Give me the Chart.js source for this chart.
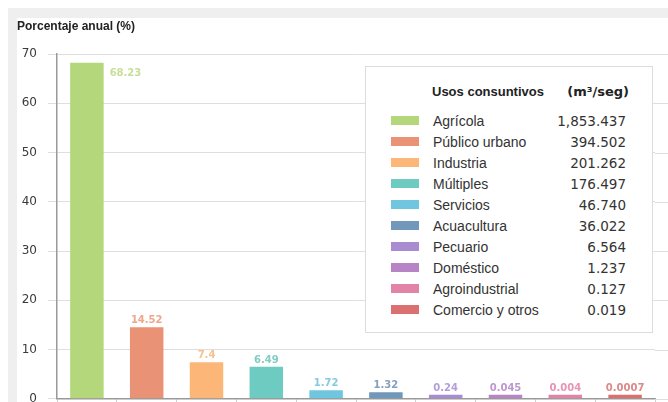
<!DOCTYPE html>
<html>
<head>
<meta charset="utf-8">
<script src="https://cdn.jsdelivr.net/npm/chart.js@4.4.1/dist/chart.umd.min.js"></script>
<style>
  html, body { margin: 0; padding: 0; }
  body { width: 668px; height: 402px; overflow: hidden; background: #fff; position: relative; }
  #frame { position: absolute; left: 8px; top: 8px; right: 0; bottom: 0; background: #efefef; }
  #panel { position: absolute; left: 17px; top: 18px; width: 651px; height: 399px; background: #fff; }
  #legend {
    position: absolute; left: 365px; top: 66px; width: 288px; height: 267px;
    box-sizing: border-box; border: 1px solid #dcdcdc; background: #fff;
    padding-top: 14px; font-family: "Liberation Sans", Arial, sans-serif; color: #333;
  }
  .row { display: flex; align-items: center; height: 21px; font-size: 14px; }
  .row.head { font-size: 13px; font-weight: bold; color: #222; margin-bottom: 8px; }
  .row.head .name { margin-left: 66px; }
  .row.head .val { margin-right: 23px; font-family: "DejaVu Sans", sans-serif; font-size: 13px; }
  .sw { width: 28px; height: 9px; margin-left: 25px; margin-right: 14px; }
  .name { flex: 1; }
  .val { margin-right: 26px; font-family: "DejaVu Sans", sans-serif; font-size: 13.5px; }
</style>
</head>
<body>
<div id="frame"></div>
<div id="panel"><canvas id="chart" width="651" height="399"></canvas></div>
<div id="legend"><div class="row head"><span class="name">Usos consuntivos</span><span class="val">(m³/seg)</span></div></div>
<script>
// 数据：各用途占比 (%) 与流量 (m³/seg)
const categories = ["Agrícola", "Público urbano", "Industria", "Múltiples", "Servicios",
  "Acuacultura", "Pecuario", "Doméstico", "Agroindustrial", "Comercio y otros"];
const percentages = [68.23, 14.52, 7.4, 6.49, 1.72, 1.32, 0.24, 0.045, 0.004, 0.0007];
const flows = [1853.437, 394.502, 201.262, 176.497, 46.740, 36.022, 6.564, 1.237, 0.127, 0.019];
const yTicks = [0, 10, 20, 30, 40, 50, 60, 70];

const barColors = ["#b5d77b", "#ea9275", "#fcb778", "#6dcbc1", "#70c6de",
  "#7197bb", "#a98bd1", "#b785c6", "#e283a8", "#da7070"];
const labelColors = ["#c6df98", "#eca78c", "#f8c08c", "#7fcdc5", "#84cae0",
  "#869fbe", "#b59dd8", "#bd98cf", "#e795b4", "#dd8a8a"];

// 图例：名称 + 流量
const legend = document.getElementById("legend");
categories.forEach((name, i) => {
  const row = document.createElement("div");
  row.className = "row";
  row.innerHTML = `<span class="sw" style="background:${barColors[i]}"></span>` +
    `<span class="name">${name}</span>` +
    `<span class="val">${flows[i].toLocaleString("en-US", { minimumFractionDigits: 3 })}</span>`;
  legend.appendChild(row);
});

// 网格线延伸到画布右缘
const gridExtend = {
  id: "gridExtend",
  beforeDatasetsDraw(chart) {
    const { ctx, chartArea } = chart;
    const y = chart.scales.y;
    ctx.save();
    ctx.strokeStyle = "#dedede";
    ctx.lineWidth = 1;
    y.ticks.forEach((t) => {
      const py = Math.round(y.getPixelForValue(t.value)) + 0.5;
      ctx.beginPath();
      ctx.moveTo(chartArea.right, py);
      ctx.lineTo(chart.width, py);
      ctx.stroke();
    });
    ctx.restore();
  },
};

// 柱顶数值标签
const barLabels = {
  id: "barLabels",
  afterDatasetsDraw(chart) {
    const ctx = chart.ctx;
    const meta = chart.getDatasetMeta(0);
    ctx.save();
    ctx.font = 'bold 10px "DejaVu Sans"';
    ctx.textBaseline = "alphabetic";
    meta.data.forEach((bar, i) => {
      ctx.fillStyle = labelColors[i];
      const txt = String(percentages[i]);
      if (i === 0) {
        ctx.textAlign = "left";
        ctx.fillText(txt, bar.x + bar.width / 2 + 6, bar.y + 13);
      } else {
        ctx.textAlign = "center";
        ctx.fillText(txt, bar.x, bar.y - 4);
      }
    });
    ctx.restore();
  },
};

new Chart(document.getElementById("chart"), {
  type: "bar",
  data: {
    labels: categories,
    datasets: [{
      data: percentages,
      backgroundColor: barColors,
      barPercentage: 0.56,
      categoryPercentage: 1,
      minBarLength: 4,
    }],
  },
  options: {
    responsive: false,
    animation: false,
    layout: { padding: { left: 0, right: 13, bottom: 0 } },
    scales: {
      x: {
        ticks: { display: false },
        grid: { drawOnChartArea: false, tickLength: 8, color: "#cfcfcf" },
        border: { color: "#999", width: 1.5 },
      },
      y: {
        min: 0,
        max: 70,
        afterBuildTicks: (scale) => { scale.ticks = yTicks.map((v) => ({ value: v })); },
        afterFit: (scale) => { scale.width = 40; },
        ticks: { color: "#3a3a3a", padding: 11, font: { family: "DejaVu Sans", size: 12 } },
        grid: { color: "#dedede", tickLength: 9 },
        border: { color: "#999", width: 1.5 },
      },
    },
    plugins: {
      legend: { display: false },
      tooltip: { enabled: false },
      title: {
        display: true,
        text: "Porcentaje anual (%)",
        align: "start",
        color: "#222",
        font: { family: "Liberation Sans", size: 12, weight: "bold", lineHeight: 1.2 },
        padding: { top: 1, bottom: 20.6 },
      },
    },
  },
  plugins: [gridExtend, barLabels],
});
</script>
</body>
</html>
